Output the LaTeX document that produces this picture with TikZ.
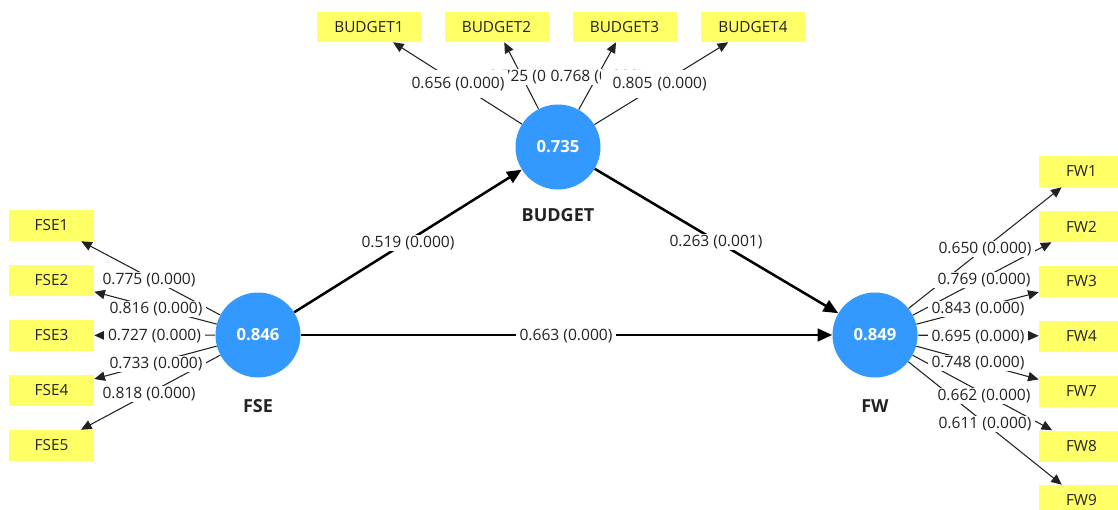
\documentclass[tikz,border=0pt]{standalone}
\usepackage{fontspec}
\setmainfont{Open Sans}
\usetikzlibrary{arrows.meta}

\definecolor{lvblue}{HTML}{3399FF}
\definecolor{indyellow}{HTML}{FFFF66}
\definecolor{txtgray}{HTML}{222222}

\tikzset{
  latent/.style={circle, fill=lvblue, minimum size=63.75pt, inner sep=0pt,
    text=white, font=\fontsize{12.5}{14}\selectfont\bfseries},
  lvname/.style={font=\fontsize{13.5}{15}\selectfont\bfseries, text=txtgray},
  indbox/.style={rectangle, fill=indyellow, minimum width=63.75pt,
    minimum height=23.25pt, inner sep=0pt, text=txtgray,
    font=\fontsize{11.5}{13}\selectfont},
  widebox/.style={indbox, minimum width=78pt, minimum height=22.5pt},
  loading/.style={draw=txtgray, line width=0.8pt,
    -{Triangle[length=8pt, width=7pt]}},
  pathcoef/.style={draw=black, line width=1.9pt,
    -{Triangle[length=11pt, width=9.5pt]}},
  lbl/.style={fill=white, inner xsep=3pt, inner ysep=1pt, text=txtgray,
    font=\fontsize{11.7}{13}\selectfont},
  tallbl/.style={lbl, inner ysep=5pt},
}

\begin{document}
\begin{tikzpicture}[x=0.75pt, y=-0.75pt]
  \useasboundingbox (0,0) rectangle (1118,510);
  \clip (0,0) rectangle (1118,510);

  % latent variables
  \node[latent] (budget) at (558,147) {0.735};
  \node[latent] (fse)    at (258,335) {0.846};
  \node[latent] (fw)     at (875,335) {0.849};
  \node[lvname] (budgetname) at (558,215) {BUDGET};
  \node[lvname] (fsename)    at (258,406) {FSE};
  \node[lvname] (fwname)     at (875,406) {FW};

  % BUDGET indicators
  \node[widebox] (budget1) at (369,27)   {BUDGET1};
  \node[widebox] (budget2) at (496.5,27) {BUDGET2};
  \node[widebox] (budget3) at (624.5,27) {BUDGET3};
  \node[widebox] (budget4) at (753,27)   {BUDGET4};

  % FSE indicators
  \node[indbox] (fse1) at (51.5,225.5) {FSE1};
  \node[indbox] (fse2) at (51.5,280.5) {FSE2};
  \node[indbox] (fse3) at (51.5,335.5) {FSE3};
  \node[indbox] (fse4) at (51.5,390.5) {FSE4};
  \node[indbox] (fse5) at (51.5,445.5) {FSE5};

  % FW indicators
  \node[indbox] (fw1) at (1081.5,171.5) {FW1};
  \node[indbox] (fw2) at (1081.5,226.5) {FW2};
  \node[indbox] (fw3) at (1081.5,281)   {FW3};
  \node[indbox] (fw4) at (1081.5,336)   {FW4};
  \node[indbox] (fw7) at (1081.5,391)   {FW7};
  \node[indbox] (fw8) at (1081.5,446)   {FW8};
  \node[indbox] (fw9) at (1081.5,500.5) {FW9};

  % outer loadings
  \foreach \i in {1,2,3,4} \draw[loading] (budget) -- (budget\i);
  \foreach \i in {1,2,3,4,5} \draw[loading] (fse) -- (fse\i);
  \foreach \i in {1,2,3,4,7,8,9} \draw[loading] (fw) -- (fw\i);

  % structural paths
  \draw[pathcoef] (fse) -- (budget);
  \draw[pathcoef] (budget) -- (fw);
  \draw[pathcoef] (fse) -- (fw);

  % loading labels of BUDGET (stacked, later ones on top)
  \node[lbl] (lb2) at (535,77) {0.725 (0.000)};
  \node[tallbl] (lb1) at (458,84) {0.656 (0.000)};
  \node[lbl] (lb3) at (597,77) {0.768 (0.000)};
  \node[tallbl, text width=76pt, align=right, anchor=east] (lb4) at (711,84) {0.805 (0.000)};

  % loading labels of FSE
  \node[lbl] (ls1) at (149,280) {0.775 (0.000)};
  \node[lbl] (ls2) at (156,309) {0.816 (0.000)};
  \node[lbl] (ls3) at (154.5,336) {0.727 (0.000)};
  \node[lbl] (ls4) at (156,364) {0.733 (0.000)};
  \node[lbl] (ls5) at (149,394) {0.818 (0.000)};

  % loading labels of FW
  \node[lbl] (lw1) at (985,249) {0.650 (0.000)};
  \node[lbl] (lw2) at (984,280) {0.769 (0.000)};
  \node[lbl] (lw3) at (978,309) {0.843 (0.000)};
  \node[lbl] (lw4) at (978,337) {0.695 (0.000)};
  \node[lbl] (lw7) at (978,363) {0.748 (0.000)};
  \node[lbl] (lw8) at (984,396) {0.662 (0.000)};
  \node[lbl] (lw9) at (985,424) {0.611 (0.000)};

  % path coefficient labels
  \node[lbl] (p1) at (408,243) {0.519 (0.000)};
  \node[lbl] (p2) at (716,242) {0.263 (0.001)};
  \node[lbl] (p3) at (566,336) {0.663 (0.000)};
\end{tikzpicture}
\end{document}
